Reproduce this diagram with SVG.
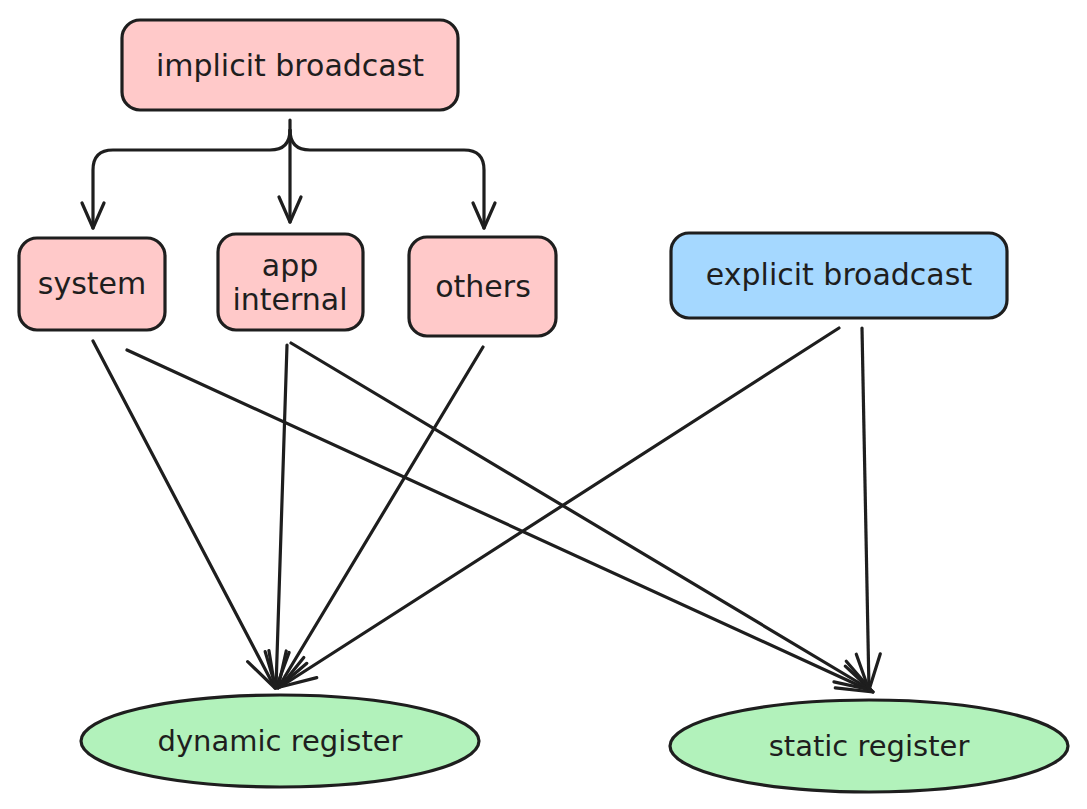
<svg xmlns="http://www.w3.org/2000/svg" width="1087" height="809" viewBox="0 0 1087 809">
<defs>
<style>
.box{stroke:#1e1e1e;stroke-width:3.2}
.red{fill:#ffc9c9}
.blue{fill:#a5d8ff}
.green{fill:#b2f2bb}
.t{font-family:"DejaVu Sans","Noto Sans",sans-serif;font-size:30px;fill:#1e1e1e;text-anchor:middle}
.t2{font-family:"DejaVu Sans","Noto Sans",sans-serif;font-size:29px;fill:#1e1e1e;text-anchor:middle}
.c{fill:none;stroke:#1e1e1e;stroke-width:3.2;stroke-linecap:round;stroke-linejoin:round}
</style>
<marker id="a1" markerUnits="userSpaceOnUse" markerWidth="40" markerHeight="40" viewBox="-30 -20 40 40" refX="0" refY="0" orient="auto" overflow="visible">
<path d="M -25 -11 L 0 0 L -25 11" fill="none" stroke="#1e1e1e" stroke-width="3.2" stroke-linecap="round" stroke-linejoin="round"/>
</marker>
<marker id="a2" markerUnits="userSpaceOnUse" markerWidth="50" markerHeight="50" viewBox="-40 -25 50 50" refX="0" refY="0" orient="auto" overflow="visible">
<path d="M -36 -12 L 0 0 L -36 12" fill="none" stroke="#1e1e1e" stroke-width="3.2" stroke-linecap="round" stroke-linejoin="round"/>
</marker>
</defs>
<rect width="1087" height="809" fill="#ffffff"/>
<g id="connectors">
<path class="c" d="M 290 120 L 290 222" marker-end="url(#a1)"/>
<path class="c" d="M 290 130 Q 290 150 270 150 L 113 150 Q 93 150 93 170 L 93 228" marker-end="url(#a1)"/>
<path class="c" d="M 290 130 Q 290 150 310 150 L 464 150 Q 484 150 484 170 L 484 228" marker-end="url(#a1)"/>
<path class="c" d="M 93 341 L 275 688" marker-end="url(#a2)"/>
<path class="c" d="M 127 350 L 873 692" marker-end="url(#a2)"/>
<path class="c" d="M 287 345 L 276 688" marker-end="url(#a2)"/>
<path class="c" d="M 291 343 L 871 690" marker-end="url(#a2)"/>
<path class="c" d="M 483 347 L 278 688" marker-end="url(#a2)"/>
<path class="c" d="M 839 328 L 280 687" marker-end="url(#a2)"/>
<path class="c" d="M 862 328 L 869 690" marker-end="url(#a2)"/>
</g>
<g id="implicit">
<rect class="box red" x="122" y="20" width="336" height="90" rx="18"/>
<text class="t" x="290" y="76">implicit broadcast</text>
</g>
<g id="system">
<rect class="box red" x="19" y="238" width="146" height="92" rx="18"/>
<text class="t" x="92" y="294">system</text>
</g>
<g id="app">
<rect class="box red" x="218" y="234" width="145" height="96" rx="18"/>
<text class="t" x="290" y="276">app</text>
<text class="t" x="290" y="310">internal</text>
</g>
<g id="others">
<rect class="box red" x="409" y="237" width="147" height="99" rx="18"/>
<text class="t" x="483" y="297">others</text>
</g>
<g id="explicit">
<rect class="box blue" x="671" y="233" width="336" height="85" rx="18"/>
<text class="t" x="839" y="285">explicit broadcast</text>
</g>
<g id="dynamic">
<ellipse class="box green" cx="280" cy="741" rx="199" ry="46"/>
<text class="t2" x="280" y="751">dynamic register</text>
</g>
<g id="static">
<ellipse class="box green" cx="869" cy="746" rx="199" ry="46"/>
<text class="t2" x="869" y="756">static register</text>
</g>
</svg>
